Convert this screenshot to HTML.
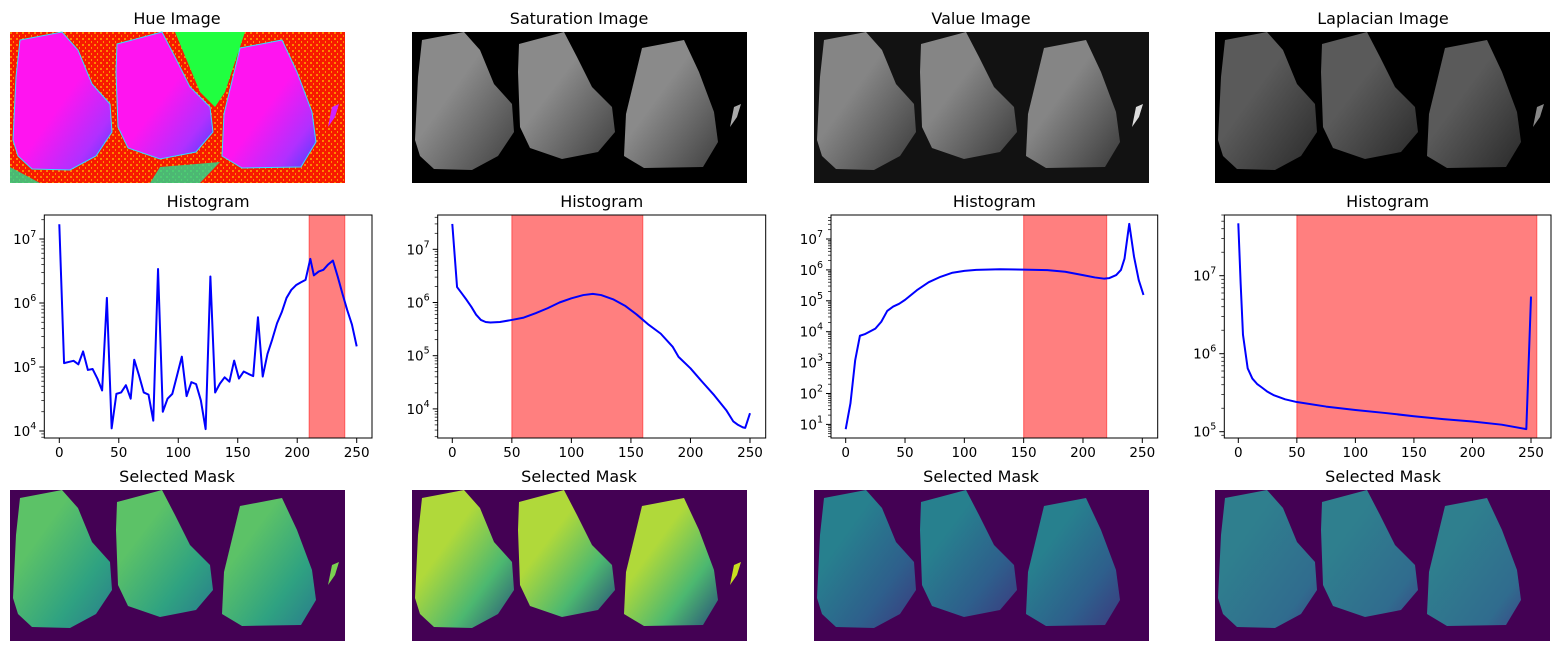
<!DOCTYPE html>
<html><head><meta charset="utf-8"><style>
body{margin:0;background:#fff;}
svg{display:block;font-family:"DejaVu Sans","Liberation Sans",sans-serif;}
</style></head><body>
<svg id="fig" width="1560" height="651" viewBox="0 0 1560 651" xmlns="http://www.w3.org/2000/svg">
<defs>
<path id="b1" d="M10,8 L52,0 L68,18 L82,52 L100,72 L102,100 L86,124 L60,138 L22,137 L8,124 L3,108 L6,45 Z"/>
<path id="b2" d="M107,12 L152,0 L165,25 L180,55 L200,75 L203,100 L186,120 L150,127 L118,116 L108,95 L106,40 Z"/>
<path id="b3" d="M230,16 L272,8 L287,40 L302,80 L306,110 L291,135 L232,136 L212,124 L214,82 Z"/>
<path id="b4" d="M322,75 L329,72 L325,85 L318,95 Z"/>
<linearGradient id="gHue" x1="0" y1="0" x2="1" y2="1"><stop offset="0.5" stop-color="#ff14f0"/><stop offset="0.8" stop-color="#b030ff"/><stop offset="1" stop-color="#4a40ff"/></linearGradient>
<linearGradient id="gSat" x1="0" y1="0" x2="1" y2="1"><stop offset="0.4" stop-color="#8a8a8a"/><stop offset="1" stop-color="#404040"/></linearGradient>
<linearGradient id="gVal" x1="0" y1="0" x2="1" y2="1"><stop offset="0.4" stop-color="#858585"/><stop offset="1" stop-color="#3a3a3a"/></linearGradient>
<linearGradient id="gLap" x1="0" y1="0" x2="1" y2="1"><stop offset="0.4" stop-color="#5a5a5a"/><stop offset="1" stop-color="#2a2a2a"/></linearGradient>
<linearGradient id="gM1" x1="0" y1="0" x2="1" y2="1"><stop offset="0.3" stop-color="#5cc267"/><stop offset="0.7" stop-color="#2fa281"/><stop offset="1" stop-color="#2a7c8c"/></linearGradient>
<linearGradient id="gM2" x1="0" y1="0" x2="1" y2="1"><stop offset="0.35" stop-color="#b0d93a"/><stop offset="0.7" stop-color="#4cb870"/><stop offset="1" stop-color="#2a4f7a"/></linearGradient>
<linearGradient id="gM3" x1="0" y1="0" x2="1" y2="1"><stop offset="0.3" stop-color="#27808e"/><stop offset="0.7" stop-color="#2e5f8c"/><stop offset="1" stop-color="#3b3a7f"/></linearGradient>
<linearGradient id="gM4" x1="0" y1="0" x2="1" y2="1"><stop offset="0.3" stop-color="#2f7f8e"/><stop offset="0.8" stop-color="#306c8e"/><stop offset="1" stop-color="#3a4a88"/></linearGradient>
<pattern id="speck" width="6" height="6" patternUnits="userSpaceOnUse"><rect x="0" y="0" width="2" height="2" fill="#ffd000"/><rect x="3" y="3" width="1" height="2" fill="#ffe000"/></pattern>
</defs>

<g>
<text x="177" y="24" font-size="16" text-anchor="middle">Hue Image</text>
<g transform="translate(10,32)">
<rect width="335" height="151" fill="#f81a00"/>
<rect width="335" height="151" fill="url(#speck)" opacity="0.6"/>
<path d="M165,0 L235,0 L215,60 L205,75 L190,60 Z" fill="#20ff40"/>
<path d="M0,135 L30,151 L0,151 Z M150,135 L210,130 L190,151 L140,151 Z" fill="#20e090" opacity="0.8"/>
<use href="#b1" fill="url(#gHue)" stroke="#30e0ff" stroke-width="1"/>
<use href="#b2" fill="url(#gHue)" stroke="#30e0ff" stroke-width="1"/>
<use href="#b3" fill="url(#gHue)" stroke="#30e0ff" stroke-width="1"/>
<use href="#b4" fill="#d020ff"/>
</g></g>

<g>
<text x="579" y="24" font-size="16" text-anchor="middle">Saturation Image</text>
<g transform="translate(412,32)">
<rect width="335" height="151" fill="#000"/>
<use href="#b1" fill="url(#gSat)"/><use href="#b2" fill="url(#gSat)"/><use href="#b3" fill="url(#gSat)"/><use href="#b4" fill="#aaa"/>
</g></g>

<g>
<text x="981" y="24" font-size="16" text-anchor="middle">Value Image</text>
<g transform="translate(814,32)">
<rect width="335" height="151" fill="#121212"/>
<use href="#b1" fill="url(#gVal)"/><use href="#b2" fill="url(#gVal)"/><use href="#b3" fill="url(#gVal)"/><use href="#b4" fill="#ddd"/>
</g></g>

<g>
<text x="1383" y="24" font-size="16" text-anchor="middle">Laplacian Image</text>
<g transform="translate(1215,32)">
<rect width="335" height="151" fill="#000"/>
<use href="#b1" fill="url(#gLap)"/><use href="#b2" fill="url(#gLap)"/><use href="#b3" fill="url(#gLap)"/><use href="#b4" fill="#888"/>
</g></g>

<g>
<text x="177" y="482" font-size="16" text-anchor="middle">Selected Mask</text>
<g transform="translate(10,490)"><rect width="335" height="151" fill="#440154"/>
<use href="#b1" fill="url(#gM1)"/><use href="#b2" fill="url(#gM1)"/><use href="#b3" fill="url(#gM1)"/><use href="#b4" fill="#7ad151"/></g></g>

<g>
<text x="579" y="482" font-size="16" text-anchor="middle">Selected Mask</text>
<g transform="translate(412,490)"><rect width="335" height="151" fill="#440154"/>
<use href="#b1" fill="url(#gM2)"/><use href="#b2" fill="url(#gM2)"/><use href="#b3" fill="url(#gM2)"/><use href="#b4" fill="#c8e020"/></g></g>

<g>
<text x="981" y="482" font-size="16" text-anchor="middle">Selected Mask</text>
<g transform="translate(814,490)"><rect width="335" height="151" fill="#440154"/>
<use href="#b1" fill="url(#gM3)"/><use href="#b2" fill="url(#gM3)"/><use href="#b3" fill="url(#gM3)"/></g></g>

<g>
<text x="1383" y="482" font-size="16" text-anchor="middle">Selected Mask</text>
<g transform="translate(1215,490)"><rect width="335" height="151" fill="#440154"/>
<use href="#b1" fill="url(#gM4)"/><use href="#b2" fill="url(#gM4)"/><use href="#b3" fill="url(#gM4)"/></g></g>

<g id="charts"></g>
</svg>
<script>
// ---- Data ----
const xTickLabels = [0, 50, 100, 150, 200, 250];

const hueBins = [0,4,8,12,16,20,24,28,32,36,40,44,48,52,56,60,63,67,71,75,79,83,87,91,95,99,103,107,111,115,119,123,127,131,135,139,143,147,151,155,159,163,167,171,175,179,183,187,191,195,199,203,207,211,214,218,222,226,230,234,238,242,246,250];
const hueCounts = [1.7e7,1.15e5,1.2e5,1.25e5,1.1e5,1.75e5,9e4,9.3e4,6.6e4,4.3e4,1.2e6,1.1e4,3.8e4,4e4,5.2e4,3.2e4,1.3e5,7.4e4,4e4,3.7e4,1.45e4,3.4e6,2e4,3.2e4,3.8e4,7.4e4,1.45e5,3.5e4,5.8e4,5.4e4,3e4,1.07e4,2.6e6,4e4,5.5e4,6.9e4,5.9e4,1.26e5,6.6e4,8.5e4,7.8e4,7.2e4,6e5,7.1e4,1.6e5,2.7e5,4.8e5,7.2e5,1.2e6,1.6e6,1.9e6,2.1e6,2.3e6,4.9e6,2.7e6,3.1e6,3.3e6,4e6,4.6e6,2.6e6,1.4e6,7.8e5,4.6e5,2.1e5];
const hueRange = [210, 240];

const satBins = [0,4,8,12,16,20,24,28,32,40,50,60,70,80,90,100,110,118,125,135,145,155,165,175,185,190,200,210,220,230,236,240,244,246,250];
const satCounts = [3e7,1.95e6,1.48e6,1.12e6,8.3e5,5.9e5,4.7e5,4.3e5,4.2e5,4.3e5,4.7e5,5.2e5,6.3e5,7.8e5,1e6,1.2e6,1.38e6,1.45e6,1.38e6,1.15e6,8.7e5,5.9e5,3.8e5,2.6e5,1.48e5,9.5e4,5.8e4,3.2e4,1.8e4,9.5e3,5.8e3,5e3,4.5e3,4.4e3,8.3e3];
const satRange = [50, 160];

const valBins = [0,4,8,12,16,20,25,30,35,40,45,50,60,70,80,90,100,110,130,150,170,185,200,210,218,222,228,232,235,239,243,247,251];
const valCounts = [7,48,1.2e3,7.4e3,8.3e3,1e4,1.26e4,2.1e4,4.7e4,6.5e4,8e4,1.07e5,2.2e5,4e5,6e5,8.1e5,9.3e5,1e6,1.05e6,1.02e6,9.8e5,8.7e5,6.8e5,5.7e5,5.2e5,5.4e5,6.8e5,1e6,2.3e6,3.1e7,2.7e6,4.7e5,1.55e5];
const valRange = [150, 220];

const lapBins = [0,2,4,8,12,16,20,25,30,40,50,75,100,125,150,175,200,225,246,250];
const lapCounts = [4.7e7,8e6,1.75e6,6.5e5,4.8e5,4.1e5,3.7e5,3.25e5,2.95e5,2.6e5,2.4e5,2.1e5,1.9e5,1.74e5,1.58e5,1.45e5,1.35e5,1.23e5,1.08e5,5.4e6];
const lapRange = [50, 255];

// ---- Drawing ----
const NS = "http://www.w3.org/2000/svg";
const root = document.getElementById('charts');
function mk(tag, attrs, parent){const e=document.createElementNS(NS,tag);for(const k in attrs)e.setAttribute(k,attrs[k]);(parent||root).appendChild(e);return e;}

const panels = [
 {key:'hue', bins:hueBins, counts:hueCounts, range:hueRange, box:[44.3,215,372,438], x0:59.3, x250:356.7, y7:239, perDec:64},
 {key:'saturation', bins:satBins, counts:satCounts, range:satRange, box:[437.7,215,765.7,438], x0:452.3, x250:750, y7:249.3, perDec:53.2},
 {key:'value', bins:valBins, counts:valCounts, range:valRange, box:[831,215,1157.7,438], x0:845.7, x250:1142.3, y7:239, perDec:30.9},
 {key:'laplacian', bins:lapBins, counts:lapCounts, range:lapRange, box:[1224.3,215,1551,438], x0:1238.3, x250:1531, y7:275.7, perDec:78}
];

panels.forEach(p=>{
  const [L,T,R,B]=p.box;
  const sx = v => p.x0 + v*(p.x250-p.x0)/250;
  const sy = c => p.y7 + (7-Math.log10(c))*p.perDec;
  const g = mk('g',{});
  
  
  const title = mk('text',{x:(L+R)/2,y:T-8,'font-size':16,'text-anchor':'middle'},g);
  title.textContent='Histogram';
  
  
  const clip = mk('clipPath',{id:'clip-'+p.key},g);
  mk('rect',{x:L,y:T,width:R-L,height:B-T},clip);
  const span = mk('rect',{x:sx(p.range[0]),y:T,width:sx(p.range[1])-sx(p.range[0]),height:B-T,fill:'#ff0000','fill-opacity':0.5,stroke:'#ff0000','stroke-opacity':0.5,'stroke-width':1},g);
  
  
  const d = p.bins.map((b,i)=>(i?'L':'M')+sx(b).toFixed(2)+','+sy(p.counts[i]).toFixed(2)).join(' ');
  const line = mk('path',{d:d,fill:'none',stroke:'#0000ff','stroke-width':2,'stroke-linejoin':'round','clip-path':'url(#clip-'+p.key+')'},g);
  
  
  mk('rect',{x:L,y:T,width:R-L,height:B-T,fill:'none',stroke:'#000','stroke-width':1},g);
  xTickLabels.forEach(v=>{
    const x=sx(v);
    mk('line',{x1:x,y1:B,x2:x,y2:B+5,stroke:'#000','stroke-width':1},g);
    const t=mk('text',{x:x,y:B+19,'font-size':13.5,'text-anchor':'middle'},g);
    t.textContent=v;
    
    
  });
  const lo = 7-(B-p.y7)/p.perDec, hi = 7-(T-p.y7)/p.perDec;
  for(let e=Math.floor(lo); e<=Math.ceil(hi); e++){
    for(let m=1;m<10;m++){
      const lv = e+Math.log10(m);
      if(lv<lo||lv>hi) continue;
      const y = p.y7+(7-lv)*p.perDec;
      mk('line',{x1:L,y1:y,x2:L-(m===1?5:3),y2:y,stroke:'#000','stroke-width':m===1?1:0.7},g);
      if(m===1){
        const t=mk('text',{x:L-8,y:y+5,'font-size':13.5,'text-anchor':'end'},g);
        t.textContent='10';
        const s=mk('tspan',{dy:-7,'font-size':9.5},t);
        s.textContent=e;
        
        
      }
    }
  }
});
</script>
</body></html>
